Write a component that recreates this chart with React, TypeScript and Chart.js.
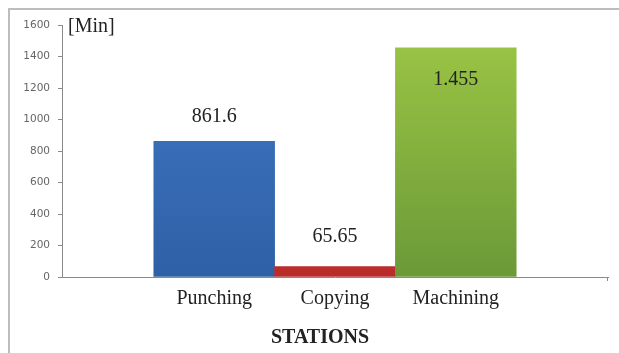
import React, { useEffect, useRef } from "react";
import { Chart, registerables } from "chart.js";

Chart.register(...registerables);

const categories = ["Punching", "Copying", "Machining"];
const values = [861.6, 65.65, 1455];
const valueLabels = ["861.6", "65.65", "1.455"];
const labelInside = [false, false, true];
const yTicks = [0, 200, 400, 600, 800, 1000, 1200, 1400, 1600];
const yUnit = "[Min]";
const xTitle = "STATIONS";

const topColors = ["#4179c6", "#d03a36", "#9dc746"];
const bottomColors = ["#2e60a6", "#b82c2a", "#6b9937"];

const SERIF = "'Liberation Serif', 'DejaVu Serif', serif";

export default function App() {
  const ref = useRef<HTMLCanvasElement>(null);
  useEffect(() => {
    const canvas = ref.current!;
    const overlay = {
      id: "overlay",
      beforeDraw(chart: any) {
        const ctx = chart.ctx;
        ctx.save();
        ctx.fillStyle = "#ffffff";
        ctx.fillRect(0, 0, chart.width, chart.height);
        ctx.strokeStyle = "#bdbdbd";
        ctx.lineWidth = 2;
        ctx.strokeRect(9, 9, chart.width + 20, chart.height + 20);
        ctx.restore();
      },
      afterDraw(chart: any) {
        const ctx = chart.ctx;
        const area = chart.chartArea;
        ctx.save();
        ctx.strokeStyle = "#8a8a8a";
        ctx.lineWidth = 1;
        ctx.beginPath();
        ctx.moveTo(area.right - 0.5, area.bottom);
        ctx.lineTo(area.right - 0.5, area.bottom + 4);
        ctx.stroke();
        ctx.fillStyle = "#222";
        ctx.font = `20px ${SERIF}`;
        ctx.textAlign = "center";
        ctx.textBaseline = "middle";
        const meta = chart.getDatasetMeta(0);
        meta.data.forEach((bar: any, i: number) => {
          const y = labelInside[i] ? bar.y + 32 : bar.y - (i === 1 ? 30 : 25);
          ctx.fillText(valueLabels[i], bar.x, y);
        });
        ctx.textAlign = "left";
        ctx.fillText(yUnit, area.left + 6, 27);
        ctx.font = `bold 20px ${SERIF}`;
        ctx.textAlign = "center";
        ctx.fillText(xTitle, 320, 338);
        ctx.restore();
      },
    };

    const chart = new Chart(canvas, {
      type: "bar",
      data: {
        datasets: [
          {
            data: categories.map((c, i) => ({ x: i, y: values[i] })),
            backgroundColor: (c: any) => {
              const area = c.chart.chartArea;
              const i = c.dataIndex ?? 0;
              if (!area) return topColors[i];
              const g = c.chart.ctx.createLinearGradient(0, area.top, 0, area.bottom);
              g.addColorStop(0, topColors[i]);
              g.addColorStop(1, bottomColors[i]);
              return g;
            },
            borderWidth: 0,
            categoryPercentage: 1,
            barPercentage: 1,
          },
        ],
      },
      options: {
        animation: false,
        responsive: false,
        maintainAspectRatio: false,
        layout: { padding: { top: 25, right: 11, left: 0, bottom: 0 } },
        plugins: { legend: { display: false }, tooltip: { enabled: false } },
        scales: {
          x: {
            type: "linear",
            offset: false,
            min: -1.26,
            max: 3.26,
            afterBuildTicks: (s: any) => {
              s.ticks = categories.map((_, i) => ({ value: i }));
            },
            afterFit: (s: any) => {
              s.height = 76;
            },
            grid: { display: false },
            border: { display: true, color: "#8a8a8a", width: 1 },
            ticks: {
              callback: (v: any) => categories[v] ?? "",
              color: "#222",
              font: { family: SERIF, size: 20 },
              padding: 2,
              maxRotation: 0,
              autoSkip: false,
            },
          },
          y: {
            min: 0,
            max: 1600,
            afterBuildTicks: (s: any) => {
              s.ticks = yTicks.map((v) => ({ value: v }));
            },
            afterFit: (s: any) => {
              s.width = 62;
            },
            grid: {
              display: true,
              drawOnChartArea: false,
              drawTicks: true,
              tickLength: 4,
              color: "#8a8a8a",
            },
            border: { display: true, color: "#8a8a8a", width: 1 },
            ticks: {
              callback: (v: any) => String(v),
              color: "#666",
              font: { family: "'DejaVu Sans', sans-serif", size: 10.5 },
              padding: 8,
            },
          },
        },
      },
      plugins: [overlay],
    } as any);
    return () => chart.destroy();
  }, []);
  return (
    <div style={{ position: "fixed", left: 0, top: 0, width: 619, height: 353, background: "#fff" }}>
      <canvas ref={ref} width={619} height={353} style={{ display: "block", width: 619, height: 353 }} />
    </div>
  );
}
